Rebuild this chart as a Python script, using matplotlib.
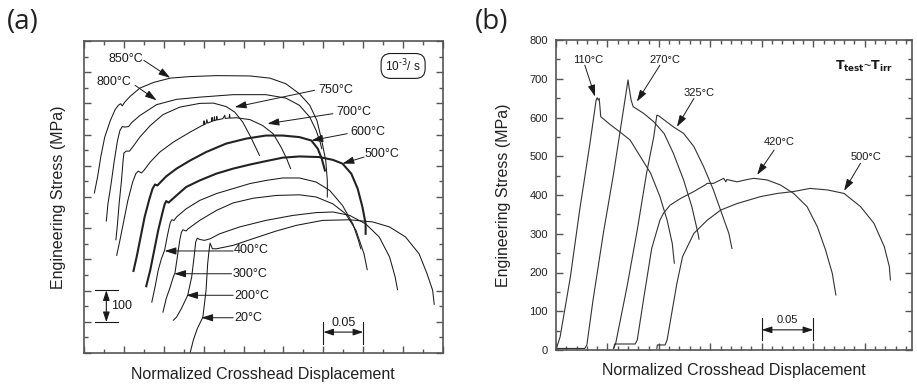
import matplotlib
matplotlib.use('Agg')
import matplotlib.pyplot as plt
from matplotlib.ticker import MultipleLocator

plt.rcParams['font.family'] = ['Liberation Sans', 'DejaVu Sans']

# ---------------- Panel (a) data: x in 1e-3 normalized displacement, y in MPa (offset curves)
a850_x = [13, 17, 21, 26, 33, 39, 43, 46, 48, 51, 58, 70, 87, 108, 133, 166, 208, 233, 253, 270, 283, 292, 298, 303, 305, 305]
a850_y = [513, 564, 628, 692, 745, 780, 794, 799, 792, 804, 823, 849, 867, 881, 886, 889, 888, 881, 863, 831, 794, 745, 681, 617, 553, 500]

a800_x = [28, 30, 34, 38, 42, 45, 48, 51, 56, 60, 70, 91, 116, 145, 187, 228, 253, 270, 283, 291, 296, 298]
a800_y = [423, 478, 543, 617, 681, 713, 726, 724, 726, 739, 761, 796, 813, 820, 828, 828, 817, 794, 756, 713, 676, 655]

a750_x = [40, 42, 44, 47, 49, 50, 53, 57, 61, 70, 83, 99, 120, 145, 162, 178, 189, 199, 208, 215, 220]
a750_y = [363, 414, 478, 553, 617, 641, 647, 647, 660, 692, 729, 764, 788, 800, 801, 790, 772, 740, 697, 660, 633]

a700_x = [41, 45, 50, 55, 61, 65, 68, 72, 75, 83, 95, 112, 133, 148, 150, 150.5, 151, 153, 154, 155, 160, 160.5, 161,
          163, 163.5, 164, 166, 166.5, 167, 174, 176.5, 177, 182, 182.5, 183, 191, 208, 224, 237, 247, 254, 259]
a700_y = [313, 361, 425, 489, 548, 575, 583, 577, 585, 612, 644, 676, 708, 729, 731, 744, 732, 735, 748, 737, 742, 755, 743,
          745, 757, 745, 747, 758, 747, 751, 762, 752, 753, 764, 753, 754, 748, 729, 703, 660, 623, 591]

a600_x = [62, 66, 71, 76, 82, 86, 89, 92, 95, 103, 116, 133, 153, 178, 203, 228, 249, 270, 285, 293, 298, 302]
a600_y = [263, 308, 372, 436, 494, 527, 540, 537, 545, 566, 591, 617, 644, 671, 687, 697, 697, 692, 681, 655, 623, 585]

a500_x = [78, 83, 88, 93, 98, 101, 103, 106, 109, 116, 128, 145, 166, 187, 208, 228, 249, 270, 295, 312, 324, 335, 343, 349, 353, 353]
a500_y = [214, 265, 329, 393, 446, 476, 487, 482, 489, 505, 532, 553, 575, 591, 604, 615, 626, 630, 628, 619, 607, 575, 527, 468, 414, 382]

a400_x = [85, 89, 93, 97, 101, 105, 108, 110, 113, 116, 128, 145, 166, 187, 208, 228, 249, 270, 291, 308, 324, 337, 344, 347]
a400_y = [163, 211, 265, 302, 329, 382, 417, 427, 425, 436, 462, 489, 511, 527, 543, 553, 561, 561, 548, 521, 473, 414, 361, 334]

a300_x = [99, 103, 108, 112, 114, 117, 120, 122, 124, 128, 130, 145, 166, 187, 212, 241, 270, 291, 312, 328, 341, 351, 355]
a300_y = [131, 174, 211, 244, 256, 308, 361, 386, 395, 391, 397, 425, 457, 481, 496, 505, 507, 500, 478, 446, 393, 318, 267]

a200_x = [112, 116, 122, 130, 135, 138, 140, 142, 145, 151, 158, 170, 195, 228, 262, 291, 312, 333, 353, 370, 383, 390, 393]
a200_y = [105, 115, 142, 185, 244, 308, 356, 368, 364, 361, 366, 382, 404, 425, 441, 450, 452, 441, 414, 372, 308, 244, 203]

a20_x = [133, 137, 142, 149, 153, 155, 157, 158, 161, 166, 187, 216, 241, 266, 299, 333, 362, 383, 403, 420, 430, 437, 439]
a20_y = [0, 41, 78, 115, 201, 286, 334, 352, 334, 334, 345, 370, 391, 409, 425, 427, 420, 404, 372, 318, 254, 201, 156]

a_labels = ['850°C', '800°C', '750°C', '700°C', '600°C', '500°C', '400°C', '300°C', '200°C', '20°C']

# ---------------- Panel (b) data
b110_x = [0, 1, 4, 14, 23, 33, 39, 40, 41, 42, 43.5, 53, 62, 72, 82, 92, 101, 108, 113, 115]
b110_y = [4, 9, 34, 189, 361, 533, 645, 651, 645, 649, 602, 581, 563, 542, 499, 456, 396, 335, 275, 224]

b270_x = [0, 28, 30, 36, 46, 56, 62, 67, 70, 71, 73, 75, 85, 95, 105, 114, 124, 132, 138, 139]
b270_y = [4, 4, 13, 129, 301, 456, 559, 645, 697, 678, 645, 628, 611, 589, 559, 508, 439, 370, 301, 286]

b325_x = [56, 58, 69, 79, 88, 95, 98, 100, 101, 114, 124, 134, 143.5, 153, 161, 168, 171]
b325_y = [4, 17, 163, 310, 456, 550, 606, 604, 602, 576, 559, 525, 473, 413, 353, 301, 262]

b420_x = [56, 57, 77, 79, 85, 93, 101, 104.5, 111, 121, 134, 145, 147, 153, 160, 163, 165, 166, 176, 186, 192, 205,
          218, 231, 244, 254, 262, 268.5, 272]
b420_y = [4, 15.5, 15.5, 26, 129, 262, 335, 353, 374, 391, 409, 426, 430, 430, 439, 443, 434, 440, 434, 440, 443, 439,
          426, 404, 370, 318, 258, 198, 142]

b500_x = [98, 98.5, 106, 108, 113, 117.5, 123, 134, 147, 160, 176, 182.5, 199, 215, 231, 247, 264, 280, 296, 309, 319, 324, 325]
b500_y = [4, 13, 13, 26, 103, 172, 241, 301, 335, 361, 378, 383, 396, 404, 409, 417, 413, 404, 370, 327, 267, 215, 181]

b_labels = ['110°C', '270°C', '325°C', '420°C', '500°C']
b_yticks = [0, 100, 200, 300, 400, 500, 600, 700, 800]

W, H = 917, 386
fig = plt.figure(figsize=(W / 100, H / 100), dpi=100)


def box(l, t, r, b):
    return [l / W, 1 - b / H, (r - l) / W, (b - t) / H]


ink = '#1a1a1a'
frame = '#555555'

# ================= Panel (a)
ax = fig.add_axes(box(84, 41, 443, 353))
thin = dict(color=ink, lw=0.75)
thick = dict(color='#222222', lw=1.5)
for xs, ys in [(a850_x, a850_y), (a800_x, a800_y), (a750_x, a750_y), (a700_x, a700_y),
               (a400_x, a400_y), (a300_x, a300_y), (a200_x, a200_y), (a20_x, a20_y)]:
    ax.plot(xs, ys, **thin)
for xs, ys in [(a600_x, a600_y), (a500_x, a500_y)]:
    ax.plot(xs, ys, **thick)

ax.set_xlim(0, 450)
ax.set_ylim(0, 1000)
ax.xaxis.set_major_locator(MultipleLocator(50))
ax.xaxis.set_minor_locator(MultipleLocator(25))
ax.yaxis.set_major_locator(MultipleLocator(100))
ax.yaxis.set_minor_locator(MultipleLocator(50))
ax.tick_params(which='both', direction='in', top=True, right=True, labelbottom=False, labelleft=False,
               color=frame, width=1.0)
ax.tick_params(which='major', length=5)
ax.tick_params(which='minor', length=3)
for s in ax.spines.values():
    s.set_color(frame)
    s.set_linewidth(1.2)

arrow_kw = dict(arrowstyle='-|>,head_length=0.7,head_width=0.22', color=ink, lw=0.7, shrinkA=0, shrinkB=0)
a_text_pos = [(53, 943), (37, 868), (316, 844), (338, 774), (356, 708), (374, 637),
              (210, 331), (208, 254), (210, 182), (206, 113)]
a_arrow_from = [(75, 938), (64, 858), (289, 842), (312, 767), (330, 703), (351, 628),
                (187, 327), (185, 254), (187, 185), (187, 113)]
a_arrow_to = [(108, 882), (91, 810), (189, 788), (230, 735), (285, 681), (324, 607),
              (101, 327), (113, 254), (128, 185), (147, 113)]
for lab, tp, af, at in zip(a_labels, a_text_pos, a_arrow_from, a_arrow_to):
    ax.text(tp[0], tp[1], lab, ha='center', va='center', fontsize=9, color=ink)
    ax.annotate('', xy=at, xytext=af, arrowprops=arrow_kw)

ax.text(400, 920, r'10$^{\text{-3}}$/ s', ha='center', va='center', fontsize=8.5, color=ink,
        bbox=dict(boxstyle='round,pad=0.35,rounding_size=0.8', fc='white', ec=ink, lw=0.8))

# scale bar 100
ax.plot([14, 43], [201, 201], color=ink, lw=0.8)
ax.plot([14, 43], [99, 99], color=ink, lw=0.8)
ax.annotate('', xy=(28, 99), xytext=(28, 201),
            arrowprops=dict(arrowstyle='<|-|>,head_length=0.6,head_width=0.2', color=ink, lw=0.8, shrinkA=0, shrinkB=0))
ax.text(34, 150, '100', ha='left', va='center', fontsize=9, color=ink)
# scale bar 0.05
ax.plot([300, 300], [30, 99], color=ink, lw=0.8)
ax.plot([350, 350], [30, 99], color=ink, lw=0.8)
ax.annotate('', xy=(300, 67), xytext=(350, 67),
            arrowprops=dict(arrowstyle='<|-|>,head_length=0.6,head_width=0.2', color=ink, lw=0.8, shrinkA=0, shrinkB=0))
ax.text(325, 96, '0.05', ha='center', va='center', fontsize=9, color=ink)

fig.text(263 / W, 1 - 375 / H, 'Normalized Crosshead Displacement', ha='center', va='center', fontsize=11.5, color='#222')
fig.text(58 / W, 1 - 197 / H, 'Engineering Stress (MPa)', ha='center', va='center', rotation=90, fontsize=11.5, color='#222')
fig.text(7 / W, 1 - 22 / H, '(a)', ha='left', va='center', fontsize=20, color='#222',
         family=['Open Sans', 'DejaVu Sans'])

# ================= Panel (b)
bx = fig.add_axes(box(556, 40, 912, 350))
bthin = dict(color='#333333', lw=0.8)
for xs, ys in [(b110_x, b110_y), (b270_x, b270_y), (b325_x, b325_y), (b420_x, b420_y), (b500_x, b500_y)]:
    bx.plot(xs, ys, **bthin)
bx.set_xlim(0, 346)
bx.set_ylim(0, 800)
bx.set_yticks(b_yticks)
bx.set_yticklabels([str(v) for v in b_yticks])
bx.xaxis.set_major_locator(MultipleLocator(50))
bx.xaxis.set_minor_locator(MultipleLocator(10))
bx.yaxis.set_minor_locator(MultipleLocator(50))
bx.tick_params(which='both', direction='in', top=True, right=True, labelbottom=False, color=frame, width=1.0)
bx.tick_params(which='major', length=5, labelsize=8, pad=6, labelcolor='#222')
bx.tick_params(which='minor', length=3)
for s in bx.spines.values():
    s.set_color(frame)
    s.set_linewidth(1.2)

b_text_pos = [(31.5, 748), (106, 748), (139, 662), (216.6, 538), (301, 499)]
b_arrow_from = [(28, 735), (101, 735), (134, 649), (212, 516), (296, 482)]
b_arrow_to = [(38, 654), (78.6, 641), (117.5, 576), (195.5, 452), (280, 411)]
for lab, tp, af, at in zip(b_labels, b_text_pos, b_arrow_from, b_arrow_to):
    bx.text(tp[0], tp[1], lab, ha='center', va='center', fontsize=8, color=ink)
    bx.annotate('', xy=at, xytext=af, arrowprops=arrow_kw)

bx.text(299, 731, r'$\mathbf{T_{test}}$~$\mathbf{T_{irr}}$', ha='center', va='center', fontsize=9, color=ink)

bx.plot([200, 200], [26, 82], color=ink, lw=0.8)
bx.plot([250, 250], [26, 82], color=ink, lw=0.8)
bx.annotate('', xy=(200, 52), xytext=(250, 52),
            arrowprops=dict(arrowstyle='<|-|>,head_length=0.6,head_width=0.2', color=ink, lw=0.8, shrinkA=0, shrinkB=0))
bx.text(225, 77, '0.05', ha='center', va='center', fontsize=8, color=ink)

fig.text(734 / W, 1 - 370 / H, 'Normalized Crosshead Displacement', ha='center', va='center', fontsize=11.5, color='#222')
fig.text(503 / W, 1 - 195 / H, 'Engineering Stress (MPa)', ha='center', va='center', rotation=90, fontsize=11.5, color='#222')
fig.text(475 / W, 1 - 22 / H, '(b)', ha='left', va='center', fontsize=20, color='#222',
         family=['Open Sans', 'DejaVu Sans'])

fig.savefig('out.png', dpi=100)
